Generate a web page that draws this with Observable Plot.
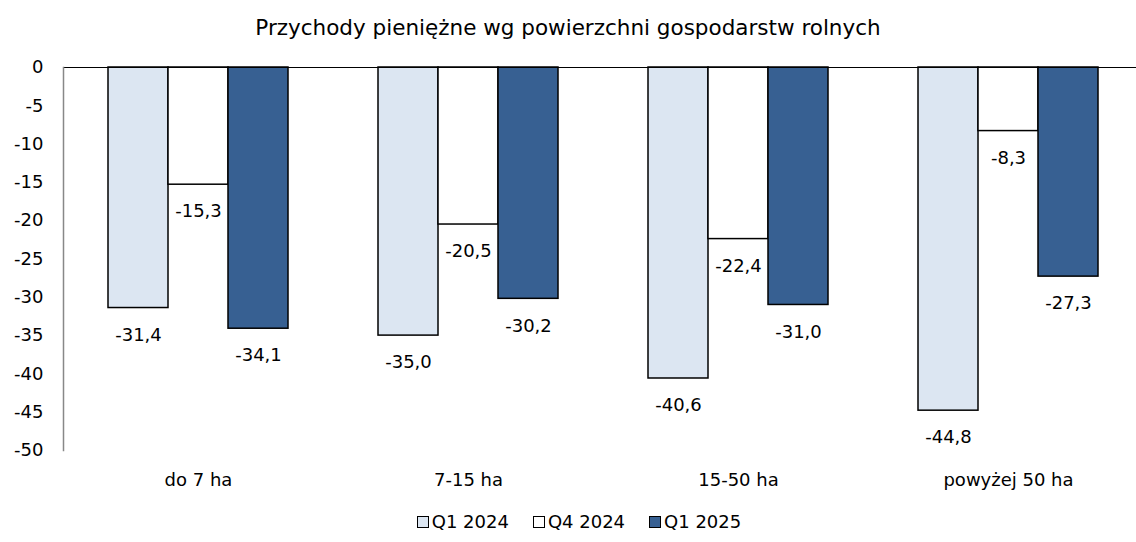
<!DOCTYPE html>
<html><head><meta charset="utf-8">
<script src="https://cdn.jsdelivr.net/npm/d3@7"></script>
<script src="https://cdn.jsdelivr.net/npm/@observablehq/plot@0.6"></script>
<style>
html,body{margin:0;background:#fff;font-family:"DejaVu Sans",sans-serif;color:#000;overflow:hidden;width:1136px;}
#title{height:50px;line-height:56px;text-align:center;font-size:21.5px;}
#chart{width:1136px;overflow:hidden;height:445px;}
#chart svg{max-width:none !important;}
#legend{height:47px;display:flex;justify-content:center;align-items:center;font-size:18px;gap:24px;padding-left:22px;padding-top:3px;}
.item{display:flex;align-items:center;}
.sw{width:10px;height:10px;border:1px solid #000;margin-right:3px;}
</style></head><body>
<div id="title">Przychody pieniężne wg powierzchni gospodarstw rolnych</div>
<div id="chart"></div>
<div id="legend"></div>
<script>
const categories = ["do 7 ha", "7-15 ha", "15-50 ha", "powyżej 50 ha"];
const series = ["Q1 2024", "Q4 2024", "Q1 2025"];
const q1_2024 = [-31.4, -35.0, -40.6, -44.8];
const q4_2024 = [-15.3, -20.5, -22.4, -8.3];
const q1_2025 = [-34.1, -30.2, -31.0, -27.3];
const colors = ["#dce6f2", "#ffffff", "#376092"];
const yTicks = [0, -5, -10, -15, -20, -25, -30, -35, -40, -45, -50];

const seriesValues = [q1_2024, q4_2024, q1_2025];
const data = [];
categories.forEach((c, i) => series.forEach((s, j) => data.push({cat: c, s, v: seriesValues[j][i]})));
const fmt = v => v.toFixed(1).replace(".", ",");

const plot = Plot.plot({
  width: 1144, height: 445,
  marginLeft: 62, marginRight: 0, marginTop: 17, marginBottom: 45,
  style: {fontFamily: '"DejaVu Sans",sans-serif', fontSize: "18px", color: "#000", background: "#fff", maxWidth: "none"},
  fx: {domain: categories, padding: 0, label: null, axis: "bottom", tickSize: 0, tickPadding: 23},
  x: {domain: series, paddingInner: 0, paddingOuter: 0.743, axis: null},
  y: {domain: [-50, 0], ticks: yTicks, label: null, tickSize: 0, tickPadding: 20, tickFormat: d => String(d)},
  color: {domain: series, range: colors},
  marks: [
    Plot.barY(data, {fx: "cat", x: "s", y: "v", fill: "s", stroke: "#000", strokeWidth: 1.5}),
    Plot.text(data, {fx: "cat", x: "s", y: "v", text: d => fmt(d.v), dy: 27, fontSize: 18, fill: "#000"}),
    Plot.ruleY([0], {stroke: "#000", strokeWidth: 1}),
    Plot.frame({anchor: "left", facetAnchor: "left", stroke: "#888", strokeWidth: 1.5})
  ]
});
document.getElementById("chart").appendChild(plot);

const lg = document.getElementById("legend");
series.forEach((s, j) => {
  const it = document.createElement("div"); it.className = "item";
  const sw = document.createElement("span"); sw.className = "sw"; sw.style.background = colors[j];
  const t = document.createElement("span"); t.textContent = s;
  it.appendChild(sw); it.appendChild(t); lg.appendChild(it);
});
</script>
</body></html>
